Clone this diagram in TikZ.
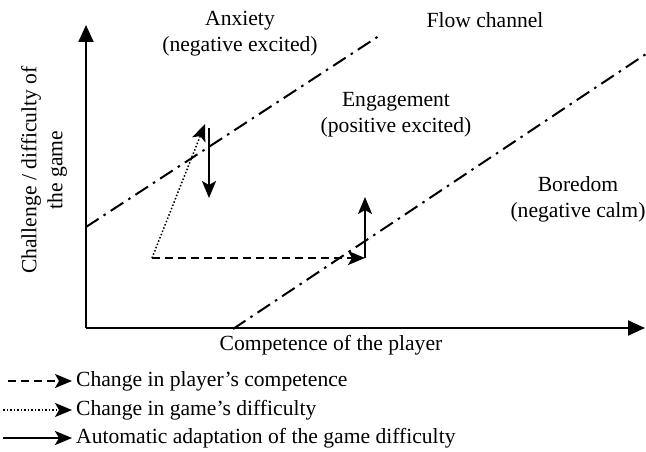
\documentclass[tikz,border=0pt]{standalone}
\usepackage{fontspec}
\setmainfont{Liberation Serif}
\usetikzlibrary{arrows.meta}
\begin{document}
\begin{tikzpicture}[x=1pt,y=-1pt,
  lbl/.style={font=\fontsize{21.6}{26}\selectfont, align=center, inner sep=0pt},
  axis/.style={line width=2pt, -{Triangle[length=17pt,width=15pt]}},
  channel/.style={line width=2pt, dash pattern=on 15pt off 6pt on 2.5pt off 6pt},
  arr/.style={-{Stealth[length=17pt,width=14pt,inset=4pt]}},
  dasharr/.style={arr, line width=1.8pt, dash pattern=on 8pt off 5pt},
  dotarr/.style={arr, line width=1.5pt, dash pattern=on 1.5pt off 2pt},
  solidarr/.style={arr, line width=2pt},
]
\useasboundingbox (0,0) rectangle (646,452);
% axes
\coordinate (O) at (86,328);
\coordinate (Ytop) at (86,25);
\coordinate (Xend) at (645,328);
\draw[axis] (O) -- (Ytop);
\draw[axis] (O) -- (Xend);
% channel lines
\coordinate (U1) at (86,227);
\coordinate (U2) at (382,34);
\coordinate (L1) at (233,329);
\coordinate (L2) at (646,54);
\draw[channel] (U1) -- (U2);
\draw[channel] (L1) -- (L2);
% arrows
\coordinate (P) at (152,258);
\coordinate (Q) at (365,258);
\coordinate (QT) at (365,197);
\coordinate (D) at (205,124);
\coordinate (S1) at (209,128);
\coordinate (S2) at (209,198);
\draw[dotarr] (P) -- (D);
\draw[solidarr] (S1) -- (S2);
\draw[dasharr] (P) -- (Q);
\draw[solidarr] (Q) -- (QT);
% labels
\node[lbl] (anx) at (240,34) {Anxiety\\(negative excited)};
\node[lbl] (flow) at (485,20) {Flow channel};
\node[lbl] (eng) at (396,115) {Engagement\\(positive excited)};
\node[lbl] (bor) at (578,199) {Boredom\\(negative calm)};
\node[lbl] (xl) at (331,345) {Competence of the player};
\node[lbl, rotate=90] (yl) at (44,170) {Challenge / difficulty of\\the game};
% legend
\coordinate (a1) at (8,381);  \coordinate (a2) at (72,381);
\coordinate (b1) at (3,410);  \coordinate (b2) at (72,410);
\coordinate (c1) at (3,438);  \coordinate (c2) at (72,438);
\draw[dasharr] (a1) -- (a2);
\draw[dotarr] (b1) -- (b2);
\draw[solidarr] (c1) -- (c2);
\node[lbl, anchor=west] (la) at (76,381) {Change in player’s competence};
\node[lbl, anchor=west] (lb) at (76,410) {Change in game’s difficulty};
\node[lbl, anchor=west] (lc) at (76,438) {Automatic adaptation of the game difficulty};
\end{tikzpicture}
\end{document}
